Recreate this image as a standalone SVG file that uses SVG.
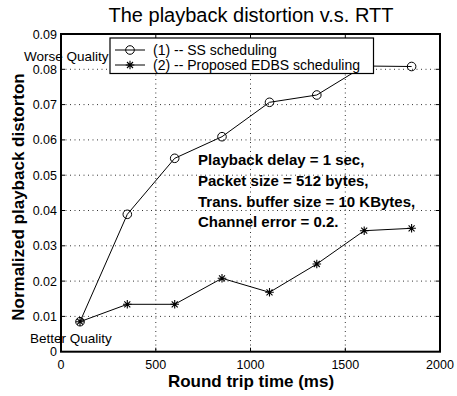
<svg xmlns="http://www.w3.org/2000/svg" width="457" height="396" viewBox="0 0 457 396">
<defs>
<style>
text{font-family:"Liberation Sans",Arial,sans-serif;fill:#000}
.tick{font-size:12.5px}
.ylab{text-anchor:end}
.xlab{text-anchor:middle}
.grid{stroke:#000;stroke-width:0.8;stroke-dasharray:1 3.5;fill:none}
.frame{stroke:#000;stroke-width:2;fill:none}
.tk{stroke:#000;stroke-width:1}
.s{stroke:#000;stroke-width:1;fill:none}
.note{font-size:15px;font-weight:bold}
.leg{font-size:14px}
.q{font-size:13.5px}
</style>
<g id="circ"><circle r="4.3" fill="none" stroke="#000" stroke-width="1"/></g>
<g id="star" stroke="#000" stroke-width="1.1"><path d="M-4.3 0H4.3M0 -4.3V4.3M-3 -3L3 3M-3 3L3 -3"/></g>
</defs>
<rect width="457" height="396" fill="#fff"/>
<text x="251" y="22" font-size="20" text-anchor="middle">The playback distortion v.s. RTT</text>
<g id="grid">
<path class="grid" d="M155.8 34V351.7M250.5 34V351.7M345.3 34V351.7"/>
<path class="grid" d="M61 316.4H440M61 281.1H440M61 245.8H440M61 210.5H440M61 175.2H440M61 139.9H440M61 104.6H440M61 69.3H440"/>
</g>
<g id="ticks">
<path class="tk" d="M155.8 351.7v-4M250.5 351.7v-4M345.3 351.7v-4M155.8 34v4M250.5 34v4M345.3 34v4"/>
<path class="tk" d="M61 316.4h4M61 281.1h4M61 245.8h4M61 210.5h4M61 175.2h4M61 139.9h4M61 104.6h4M61 69.3h4M440 316.4h-4M440 281.1h-4M440 245.8h-4M440 210.5h-4M440 175.2h-4M440 139.9h-4M440 104.6h-4M440 69.3h-4"/>
</g>
<g id="yticklabels" class="tick ylab">
<text x="57" y="356.2">0</text>
<text x="57" y="320.9">0.01</text>
<text x="57" y="285.6">0.02</text>
<text x="57" y="250.3">0.03</text>
<text x="57" y="215">0.04</text>
<text x="57" y="179.7">0.05</text>
<text x="57" y="144.4">0.06</text>
<text x="57" y="109.1">0.07</text>
<text x="57" y="74.3">0.08</text>
<text x="57" y="38.5">0.09</text>
</g>
<g id="xticklabels" class="tick xlab">
<text x="61" y="369">0</text>
<text x="155.8" y="369">500</text>
<text x="250.5" y="369">1000</text>
<text x="345.3" y="369">1500</text>
<text x="440" y="369">2000</text>
</g>
<text x="251" y="387" font-size="17" font-weight="bold" text-anchor="middle">Round trip time (ms)</text>
<text transform="translate(24 197) rotate(-90)" font-size="17" font-weight="bold" text-anchor="middle">Normalized playback distorton</text>
<text class="q" x="24" y="60.5">Worse Quality</text>
<text class="q" x="30" y="343">Better Quality</text>
<g id="connectors">
<polyline id="series1" class="s" points="80,321.7 127.3,214.3 174.7,158.3 222,136.7 269.5,102.3 316.8,95 364.2,66 411.6,66.5"/>
<polyline id="series2" class="s" points="80,321.7 127.3,304.3 174.7,304.3 222,278.3 269.5,292.3 316.8,264 364.2,230.7 411.6,228.3"/>
</g>
<g id="markers1">
<use href="#circ" x="80" y="321.7"/><use href="#circ" x="127.3" y="214.3"/><use href="#circ" x="174.7" y="158.3"/><use href="#circ" x="222" y="136.7"/><use href="#circ" x="269.5" y="102.3"/><use href="#circ" x="316.8" y="95"/><use href="#circ" x="364.2" y="66"/><use href="#circ" x="411.6" y="66.5"/>
</g>
<g id="markers2">
<use href="#star" x="80" y="321.7"/><use href="#star" x="127.3" y="304.3"/><use href="#star" x="174.7" y="304.3"/><use href="#star" x="222" y="278.3"/><use href="#star" x="269.5" y="292.3"/><use href="#star" x="316.8" y="264"/><use href="#star" x="364.2" y="230.7"/><use href="#star" x="411.6" y="228.3"/>
</g>
<rect class="frame" x="61" y="34" width="379" height="317.7"/>
<g id="note" class="note">
<text x="198" y="165">Playback delay = 1 sec,</text>
<text x="198" y="186">Packet size = 512 bytes,</text>
<text x="198" y="206.5">Trans. buffer size = 10 KBytes,</text>
<text x="198" y="227">Channel error = 0.2.</text>
</g>
<g id="legend">
<rect x="110" y="38" width="263.5" height="35.5" fill="#fff" stroke="#000" stroke-width="1.2"/>
<path class="s" d="M115 50H145M115 65H145"/>
<use href="#circ" x="130" y="50"/>
<use href="#star" x="130" y="65"/>
<text class="leg" x="153" y="54.5">(1) -- SS scheduling</text>
<text class="leg" x="153" y="69.5">(2) -- Proposed EDBS scheduling</text>
</g>
</svg>
